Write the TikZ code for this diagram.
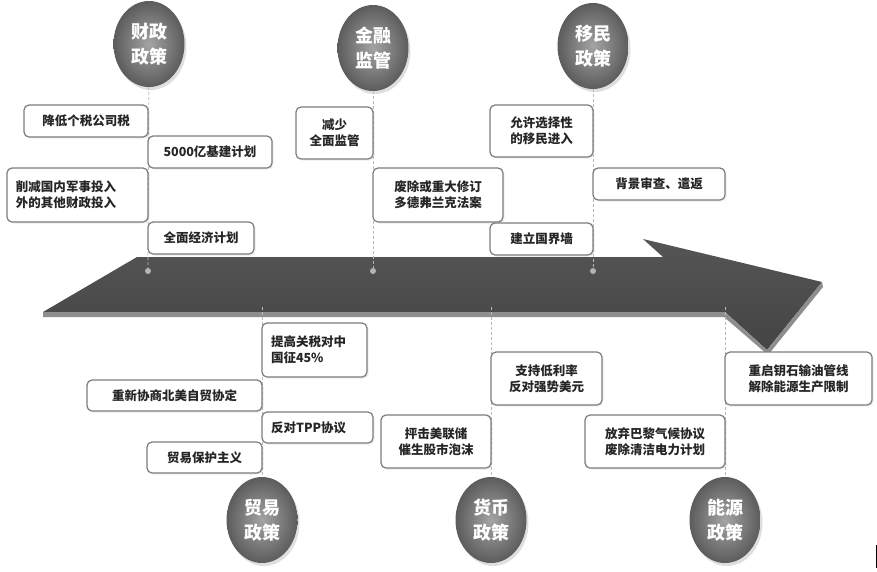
\documentclass[tikz,border=0pt]{standalone}
\usepackage{fontspec}
\newfontfamily\cjk{Noto Sans CJK SC}
\usetikzlibrary{shapes.geometric,shadows}
\definecolor{boxline}{HTML}{7C7C7C}
\definecolor{ballin}{HTML}{A4A4A4}
\definecolor{ballout}{HTML}{5C5C5C}
\definecolor{arrtop}{HTML}{555555}
\definecolor{arrbot}{HTML}{444444}
\definecolor{arredge}{HTML}{8E8E8E}
\definecolor{dotgray}{HTML}{B4B4B4}

\begin{document}
\begin{tikzpicture}[x=1pt, y=-1pt, font=\cjk,
    pnode/.style={ellipse, minimum width=71pt, minimum height=86pt, inner sep=0pt, shading=radial, inner color=ballin, outer color=ballout, text=white, align=center, font=\cjk\bfseries\fontsize{18}{25}\selectfont, drop shadow={opacity=0.25, shadow xshift=2pt, shadow yshift=-3pt}},
    bnode/.style={draw=boxline, line width=1.2pt, rounded corners=5pt, fill=white, inner sep=0pt, align=center, text=black!85, font=\cjk\bfseries\fontsize{12.5}{16}\selectfont, drop shadow={opacity=0.15, shadow xshift=1.5pt, shadow yshift=-1.5pt}},
    lnode/.style={bnode, align=left, inner xsep=9pt},
    dnode/.style={circle, fill=dotgray, inner sep=0pt, minimum size=6pt},
    dline/.style={draw=gray!55, line width=0.8pt, dash pattern=on 3pt off 2pt}]
    \useasboundingbox (0,0) rectangle (877,571);

    \shade[top color=arrtop, bottom color=arrbot] (137,257) -- (663,257) -- (643,239) -- (822,282) -- (767,350) -- (725,312) -- (43,312) -- cycle;
    \fill[arredge] (43,312) -- (725,312) -- (767,350) -- (822,282) -- (823,287) -- (768,355) -- (724,317) -- (43,317) -- cycle;

    \node[pnode] (cz) at (149,44) {财政\\政策};
    \node[pnode] (jr) at (373,48) {金融\\监管};
    \node[pnode] (ym) at (593,46) {移民\\政策};
    \node[pnode] (my) at (262,520) {贸易\\政策};
    \node[pnode] (hb) at (491,520) {货币\\政策};
    \node[pnode] (ny) at (725,520) {能源\\政策};

    \node[dnode] (czdot) at (148,271) {};
    \node[dnode] (jrdot) at (373,271) {};
    \node[dnode] (ymdot) at (593,271) {};
    \coordinate (myup) at (262,307);
    \coordinate (hbup) at (491,307);
    \coordinate (nyup) at (725,307);

    \draw[dline] (cz) edge (czdot) ;
    \draw[dline] (jr) edge (jrdot) ;
    \draw[dline] (ym) edge (ymdot) ;
    \draw[dline] (myup) edge (my) ;
    \draw[dline] (hbup) edge (hb) ;
    \draw[dline] (nyup) edge (ny) ;

    \node[bnode, minimum width=124pt, minimum height=32pt] (jdgs) at (86,121) {降低个税公司税};
    \node[bnode, minimum width=124pt, minimum height=32pt] (jj) at (210,152) {5000亿基建计划};
    \node[lnode, text width=123pt, minimum height=54pt] (xj) at (77.5,195) {削减国内军事投入\\外的其他财政投入};
    \node[bnode, minimum width=106pt, minimum height=32pt] (qmjj) at (201,238) {全面经济计划};

    \node[bnode, minimum width=77pt, minimum height=52pt] (jsjg) at (334.5,133) {减少\\全面监管};
    \node[bnode, minimum width=130pt, minimum height=54pt] (ddf) at (438,195) {废除或重大修订\\多德弗兰克法案};

    \node[bnode, minimum width=103pt, minimum height=52pt] (yxxz) at (541.5,131) {允许选择性\\的移民进入};
    \node[bnode, minimum width=132pt, minimum height=32pt] (bjsc) at (659,184) {背景审查、遣返};
    \node[bnode, minimum width=103pt, minimum height=32pt] (gjq) at (541.5,239) {建立国界墙};

    \node[lnode, text width=87pt, minimum height=54pt] (tggs) at (314.5,350) {提高关税对中\\国征45\%};
    \node[bnode, minimum width=175pt, minimum height=31pt] (bmzm) at (174.5,395.5) {重新协商北美自贸协定};
    \node[lnode, text width=93pt, minimum height=31pt] (tpp) at (317.5,427.5) {反对TPP协议};
    \node[bnode, minimum width=115pt, minimum height=31pt] (bhzy) at (204.5,457.5) {贸易保护主义};

    \node[bnode, minimum width=110pt, minimum height=53pt] (mlc) at (436,441.5) {抨击美联储\\催生股市泡沫};
    \node[bnode, minimum width=111pt, minimum height=53pt] (dll) at (546.5,378.5) {支持低利率\\反对强势美元};

    \node[bnode, minimum width=140pt, minimum height=53pt] (blxy) at (655,441.5) {放弃巴黎气候协议\\废除清洁电力计划};
    \node[bnode, minimum width=147pt, minimum height=53pt] (ysgx) at (798.5,378.5) {重启钥石输油管线\\解除能源生产限制};

    \draw[line width=1pt] (876,545) -- (876,568);

\end{tikzpicture}
\end{document}
